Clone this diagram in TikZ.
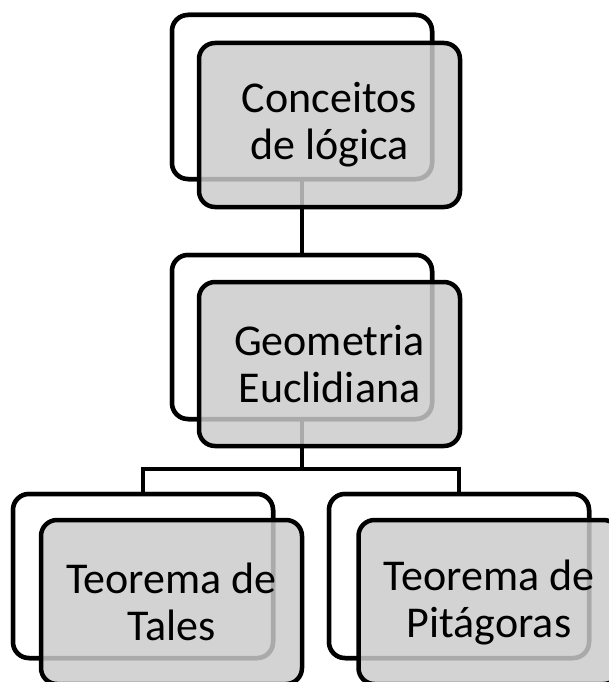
\documentclass[tikz,border=0pt]{standalone}
\usepackage{fontspec}
\setmainfont{Carlito}
\definecolor{boxgray}{RGB}{203,203,203}
\begin{document}
\begin{tikzpicture}[x=1pt,y=-1pt,
  backbox/.style={draw=black,fill=white,line width=4.5pt,rounded corners=16pt,
    rectangle,minimum width=260pt,minimum height=164pt,inner sep=0pt},
  frontbox/.style={draw=black,fill=boxgray,fill opacity=0.84,text opacity=1,
    line width=4.5pt,rounded corners=16pt,rectangle,minimum width=261pt,
    minimum height=164pt,inner sep=0pt,align=center,
    font=\fontsize{44}{47}\selectfont},
  conn/.style={draw=black,line width=4.5pt}]
\useasboundingbox (0,0) rectangle (609,682);
\clip (0,0) rectangle (609,682);
% back boxes
\node[backbox] (b1) at (302,97) {};
\node[backbox] (b2) at (302,337) {};
\node[backbox] (b3) at (143,576) {};
\node[backbox] (b4) at (459,576) {};
% connectors
\coordinate (j) at (302,469);
\draw[conn] (b1.south) -- (b2.north);
\draw[conn] (b2.south) -- (j);
\draw[conn] (b3.north) |- (j) -| (b4.north);
% redraw back boxes over connectors
\node[backbox] at (b1) {};
\node[backbox] at (b2) {};
\node[backbox] at (b3) {};
\node[backbox] at (b4) {};
% front boxes
\node[frontbox] (f1) at (329.5,125) {Conceitos\\de lógica};
\node[frontbox] (f2) at (329.5,364) {Geometria\\Euclidiana};
\node[frontbox] (f3) at (171.5,602) {Teorema de\\Tales};
\node[frontbox] (f4) at (489,602) {Teorema de\\Pitágoras};
\end{tikzpicture}
\end{document}
